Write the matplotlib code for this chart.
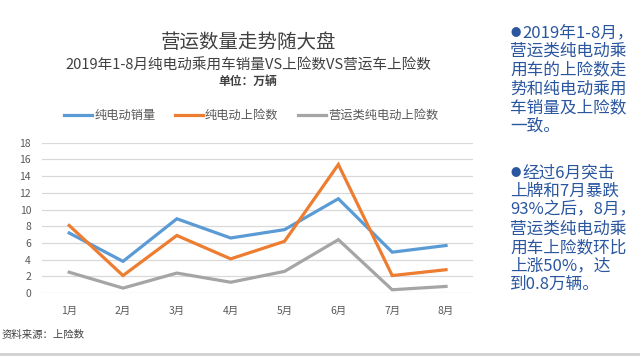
import matplotlib
matplotlib.use("Agg")
import matplotlib.pyplot as plt

plt.rcParams['font.family'] = ['Noto Sans CJK SC', 'DejaVu Sans']

months = ['1月', '2月', '3月', '4月', '5月', '6月', '7月', '8月']
sales = [7.2, 3.8, 8.9, 6.6, 7.6, 11.3, 4.9, 5.7]
insured = [8.1, 2.1, 6.9, 4.1, 6.2, 15.4, 2.1, 2.8]
commercial = [2.5, 0.6, 2.4, 1.3, 2.6, 6.4, 0.4, 0.8]
series_names = ['纯电动销量', '纯电动上险数', '营运类纯电动上险数']
yticks = [0, 2, 4, 6, 8, 10, 12, 14, 16, 18]

note1 = ['2019年1-8月，', '营运类纯电动乘', '用车的上险数走', '势和纯电动乘用',
         '车销量及上险数', '一致。']
note2 = ['经过6月突击', '上牌和7月暴跌', '93%之后，8月，', '营运类纯电动乘',
         '用车上险数环比', '上涨50%，达', '到0.8万辆。']

colors = ['#5B9BD5', '#ED7D31', '#A5A5A5']
note_color = '#2A56A0'

fig = plt.figure(figsize=(6.4, 3.57), dpi=100)
ax = fig.add_axes([0.066, 0.179, 0.673, 0.421])

x = range(len(months))
for vals, name, c in zip([sales, insured, commercial], series_names, colors):
    ax.plot(x, vals, color=c, lw=2.3, label=name, solid_joinstyle='miter')

ax.set_xlim(-0.5, len(months) - 0.5)
ax.set_ylim(0, 18)
ax.set_yticks(yticks)
ax.set_xticks(list(x))
ax.set_xticklabels(months)
ax.grid(axis='y', color='#D9D9D9', lw=0.9)
ax.set_axisbelow(True)
for s in ax.spines.values():
    s.set_visible(False)
ax.tick_params(length=0, labelsize=7.5, colors='#595959')
ax.tick_params(axis='x', pad=9)
ax.tick_params(axis='y', pad=8)

ax.legend(loc='lower center', bbox_to_anchor=(0.485, 1.065), ncol=3, frameon=False,
          fontsize=8.8, labelcolor='#595959', handlelength=2.3, columnspacing=1.6,
          handletextpad=0.15)

fig.text(0.388, 0.882, '营运数量走势随大盘', ha='center', va='center',
         fontsize=14, color='#404040')
fig.text(0.388, 0.815, '2019年1-8月纯电动乘用车销量VS上险数VS营运车上险数', ha='center',
         va='center', fontsize=10.5, color='#404040')
fig.text(0.388, 0.771, '单位：万辆', ha='center', va='center', fontsize=8.5,
         color='#404040', fontweight='bold')

# right-hand notes, one line at a time
pitch = 18.6 / 357
for lines, y0 in [(note1, 0.9076), (note2, 0.5154)]:
    fig.text(0.797, y0, '●', ha='left', va='center', fontsize=7.5, color=note_color)
    for i, line in enumerate(lines):
        xpos = 0.816 if i == 0 else 0.797
        fig.text(xpos, y0 - i * pitch, line, ha='left', va='center', fontsize=12,
                 color=note_color)

fig.text(0.003, 0.062, '资料来源：上险数', ha='left', va='center', fontsize=7.5,
         color='#404040')
fig.add_artist(plt.Line2D([0, 1], [0.008, 0.008], color='#D0D0D0', lw=2))

fig.savefig('out.png', dpi=100, facecolor='white')
